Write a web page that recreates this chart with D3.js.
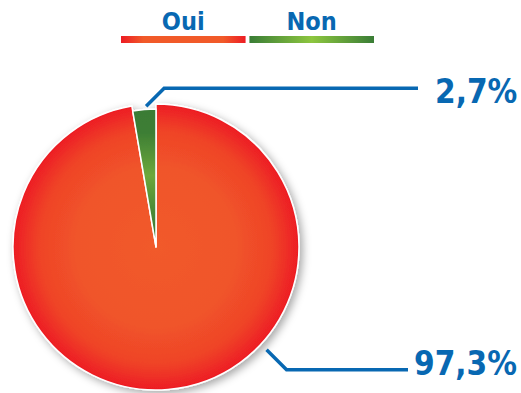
<!DOCTYPE html>
<html>
<head>
<meta charset="utf-8">
<script src="https://cdn.jsdelivr.net/npm/d3@7/dist/d3.min.js"></script>
<style>
  html, body { margin: 0; padding: 0; background: #fff; }
  svg { display: block; }
  text { font-family: "DejaVu Sans Condensed", "DejaVu Sans", sans-serif; font-weight: bold; fill: #0868B2; }
</style>
</head>
<body>
<svg id="chart" width="521" height="393"></svg>
<script>
// Answers and their shares (percent)
const categories = ["Oui", "Non"];
const values = [97.3, 2.7];
const valueLabels = ["97,3%", "2,7%"];

const cx = 156, cy = 247, R = 143;
const blue = "#0868B2";

const svg = d3.select("#chart");
const defs = svg.append("defs");

// Soft shadow under the disc
const shadow = defs.append("filter").attr("id", "shadow")
  .attr("x", "-20%").attr("y", "-20%").attr("width", "140%").attr("height", "140%");
shadow.append("feDropShadow").attr("dx", 3).attr("dy", 3)
  .attr("stdDeviation", 4).attr("flood-color", "#000").attr("flood-opacity", 0.35);

// Radial fill for the "Oui" slice: orange centre, red rim (pie group space, origin at centre)
const gOui = defs.append("radialGradient").attr("id", "gOui")
  .attr("gradientUnits", "userSpaceOnUse").attr("cx", 0).attr("cy", 0).attr("r", R);
gOui.append("stop").attr("offset", "0%").attr("stop-color", "#F15A29");
gOui.append("stop").attr("offset", "55%").attr("stop-color", "#F0552A");
gOui.append("stop").attr("offset", "82%").attr("stop-color", "#EF4327");
gOui.append("stop").attr("offset", "100%").attr("stop-color", "#ED1C24");

// Vertical fill for the "Non" slice: dark green ends, lighter middle
const gNon = defs.append("linearGradient").attr("id", "gNon")
  .attr("gradientUnits", "userSpaceOnUse").attr("x1", 0).attr("y1", -R).attr("x2", 0).attr("y2", 0);
gNon.append("stop").attr("offset", "0%").attr("stop-color", "#3A7B36");
gNon.append("stop").attr("offset", "20%").attr("stop-color", "#3D7E35");
gNon.append("stop").attr("offset", "50%").attr("stop-color", "#6DA83B");
gNon.append("stop").attr("offset", "75%").attr("stop-color", "#4A8A36");
gNon.append("stop").attr("offset", "100%").attr("stop-color", "#336F30");

// Legend bar fills
const lgOui = defs.append("linearGradient").attr("id", "lgOui");
[["0%", "#ED1C24"], ["18%", "#F15A29"], ["82%", "#F15A29"], ["100%", "#ED1C24"]]
  .forEach(([o, c]) => lgOui.append("stop").attr("offset", o).attr("stop-color", c));
const lgNon = defs.append("linearGradient").attr("id", "lgNon");
[["0%", "#3A7D36"], ["50%", "#8DC63F"], ["100%", "#3A7D36"]]
  .forEach(([o, c]) => lgNon.append("stop").attr("offset", o).attr("stop-color", c));

const fills = { "Oui": "url(#gOui)", "Non": "url(#gNon)" };
const legendFills = { "Oui": "url(#lgOui)", "Non": "url(#lgNon)" };
const outerR = { "Oui": R, "Non": R - 5 };

// Legend
const legendX = d3.scaleBand().domain(categories).range([121, 374]).paddingInner(0.03);
const legend = svg.append("g").selectAll("g").data(categories).join("g")
  .attr("transform", d => `translate(${legendX(d)},0)`);
legend.append("text")
  .attr("x", legendX.bandwidth() / 2).attr("y", 30)
  .attr("text-anchor", "middle").attr("font-size", 25)
  .text(d => d);
legend.append("rect")
  .attr("x", 0).attr("y", 36).attr("width", legendX.bandwidth()).attr("height", 7)
  .attr("fill", d => legendFills[d]);

// Pie
const pie = d3.pie().sort(null).value(d => d.value);
const data = categories.map((c, i) => ({ cat: c, value: values[i], label: valueLabels[i] }));
const arcs = pie(data);

const pieG = svg.append("g").attr("transform", `translate(${cx},${cy})`);
pieG.append("g").attr("filter", "url(#shadow)")
  .selectAll("path").data(arcs).join("path")
  .attr("d", d => d3.arc().innerRadius(0).outerRadius(outerR[d.data.cat])(d))
  .attr("fill", d => fills[d.data.cat])
  .attr("stroke", "#fff").attr("stroke-width", 1.5).attr("stroke-linejoin", "round");

// Leader lines and value labels
const leaders = {
  "Non": { angle: -0.07, r: R - 2, bendDy: -18, endX: 418, textX: 435, textY: 103 },
  "Oui": { angle: 2.32, r: R + 8, bendDy: 20, endX: 408, textX: 414, textY: 375 }
};
arcs.forEach(d => {
  const L = leaders[d.data.cat];
  const p0 = [cx + L.r * Math.sin(L.angle), cy - L.r * Math.cos(L.angle)];
  const p1 = [p0[0] + Math.abs(L.bendDy), p0[1] + L.bendDy];
  const p2 = [L.endX, p1[1]];
  svg.append("path")
    .attr("d", d3.line()([p0, p1, p2]))
    .attr("fill", "none").attr("stroke", blue).attr("stroke-width", 3.5);
  svg.append("text")
    .attr("x", L.textX).attr("y", L.textY)
    .attr("font-size", 33)
    .text(d.data.label);
});
</script>
</body>
</html>
